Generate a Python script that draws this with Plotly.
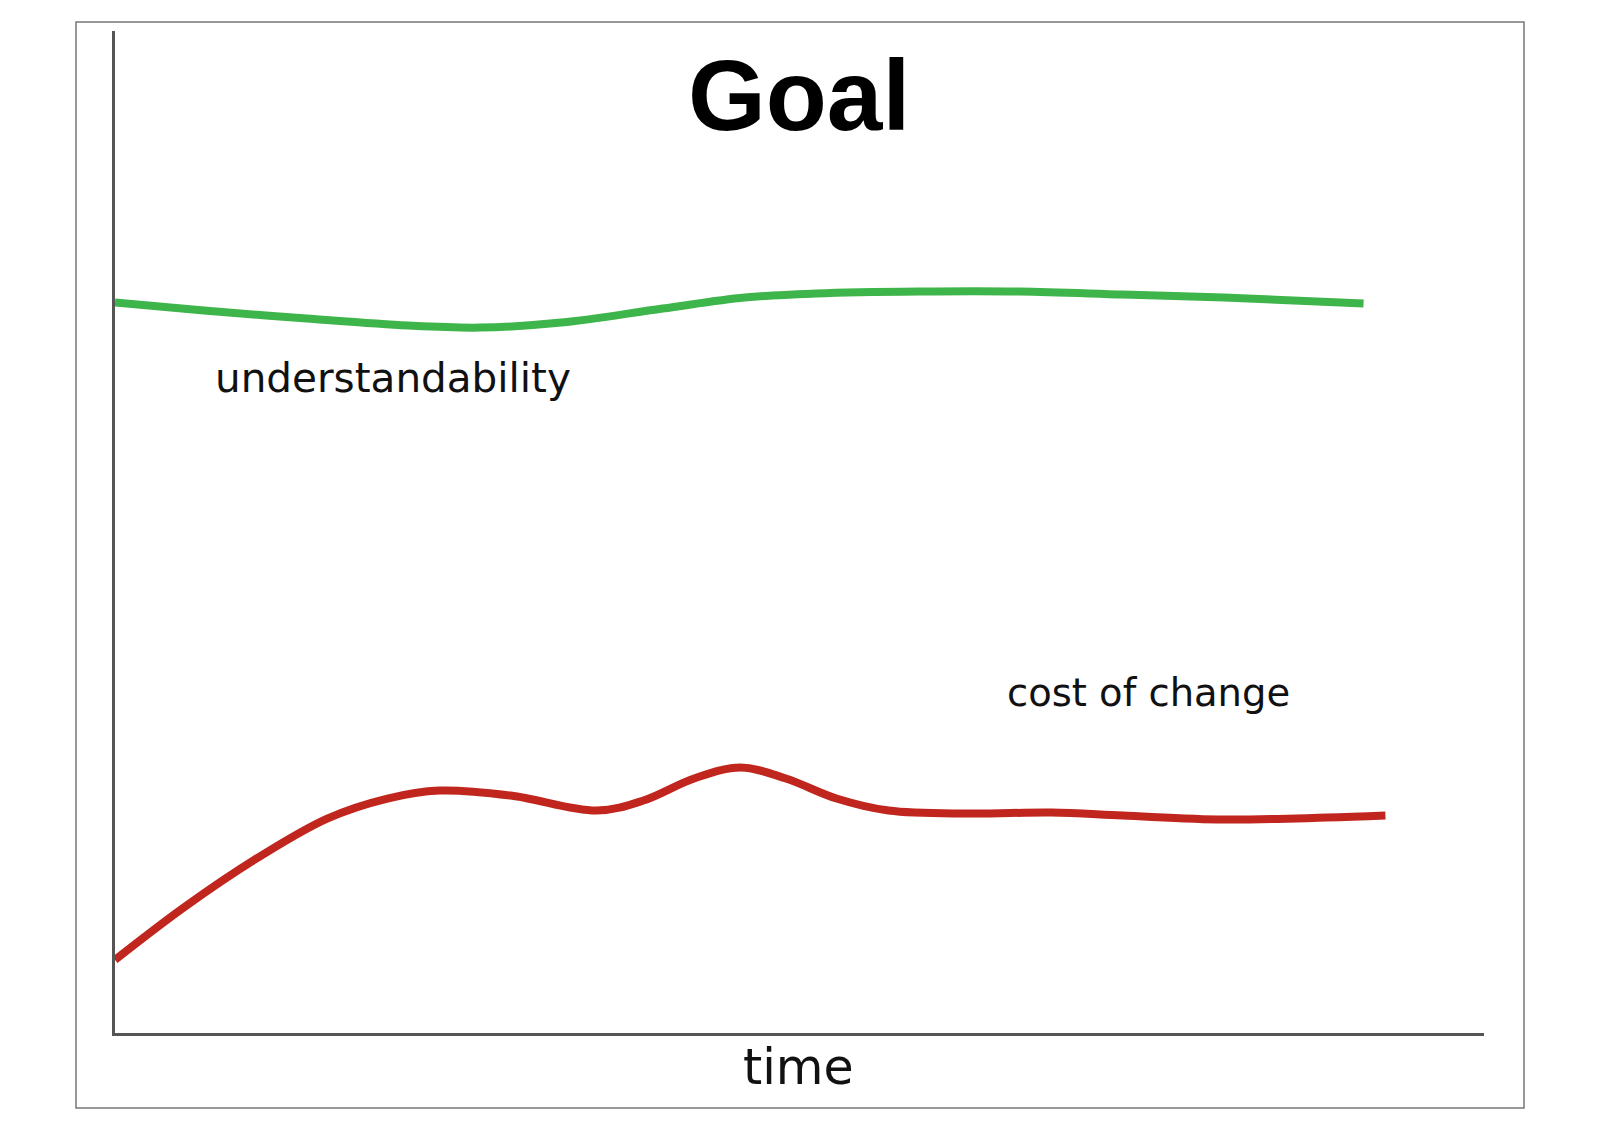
import plotly.graph_objects as go

# Data (abstract units: time 0..100, value 0..100)
time_understand = [0, 6.5, 14.0, 21.4, 26.7, 32.6, 40.0, 46.0, 51.2, 58.7, 66.1, 73.6, 81.0, 91.2]
understandability = [72.9, 72.1, 71.3, 70.6, 70.4, 70.9, 72.3, 73.4, 73.8, 74.0, 74.0, 73.7, 73.4, 72.8]

time_cost = [0, 5.0, 10.2, 15.5, 19.9, 23.7, 28.9, 35.2, 38.6, 42.3, 45.7, 49.0, 52.7, 56.5, 62.4, 68.4, 73.6, 81.0, 88.5, 92.8]
cost_of_change = [7.3, 12.5, 17.3, 21.4, 23.4, 24.2, 23.7, 22.2, 23.2, 25.4, 26.5, 25.4, 23.4, 22.2, 21.9, 22.0, 21.7, 21.3, 21.5, 21.7]

title_text = "Goal"
label_understand = "understandability"
label_cost = "cost of change"
x_label = "time"

OFF = 8  # default page body margin
W, H = 1600 - 2 * OFF, 1131 - 2 * OFF


def px(x):
    return (x - OFF) / W


def py(y):
    return 1 - (y - OFF) / H


fig = go.Figure()

fig.add_trace(go.Scatter(
    x=time_understand, y=understandability, mode="lines",
    line=dict(color="#3DB54A", width=8, shape="spline", smoothing=1.0),
    cliponaxis=False, showlegend=False, hoverinfo="skip"))
fig.add_trace(go.Scatter(
    x=time_cost, y=cost_of_change, mode="lines",
    line=dict(color="#C0261D", width=8, shape="spline", smoothing=1.0),
    cliponaxis=False, showlegend=False, hoverinfo="skip"))

fig.update_layout(
    width=W, height=H,
    margin=dict(l=0, r=0, t=0, b=0),
    paper_bgcolor="white", plot_bgcolor="white",
    xaxis=dict(domain=[px(115), px(1484)], range=[0, 100], showgrid=False, zeroline=False,
               showticklabels=False, ticks="", showline=True, linecolor="#555555", linewidth=2.5),
    yaxis=dict(domain=[py(1033), py(31)], range=[0, 100], showgrid=False, zeroline=False,
               showticklabels=False, ticks="", showline=True, linecolor="#555555", linewidth=2.5),
    shapes=[dict(type="rect", xref="paper", yref="paper",
                 x0=px(76), x1=px(1524), y0=py(1108), y1=py(22),
                 line=dict(color="#777777", width=1.5), fillcolor="rgba(0,0,0,0)", layer="below")],
    annotations=[
        dict(text="<b>" + title_text + "</b>", xref="paper", yref="paper",
             x=px(799), y=py(95), xanchor="center", yanchor="middle", showarrow=False,
             font=dict(family="Liberation Sans, Arial, sans-serif", size=100, color="black")),
        dict(text=label_understand, xref="x", yref="y", x=20.3, y=65.4,
             xanchor="center", yanchor="middle", showarrow=False,
             font=dict(family="DejaVu Sans", size=40.5, color="#111111")),
        dict(text=label_cost, xref="x", yref="y", x=75.5, y=34.0,
             xanchor="center", yanchor="middle", showarrow=False,
             font=dict(family="DejaVu Sans", size=38.5, color="#111111")),
        dict(text=x_label, xref="paper", yref="paper", x=px(798), y=py(1067),
             xanchor="center", yanchor="middle", showarrow=False,
             font=dict(family="DejaVu Sans", size=49, color="#111111")),
    ],
)

fig.write_html("out.html")
